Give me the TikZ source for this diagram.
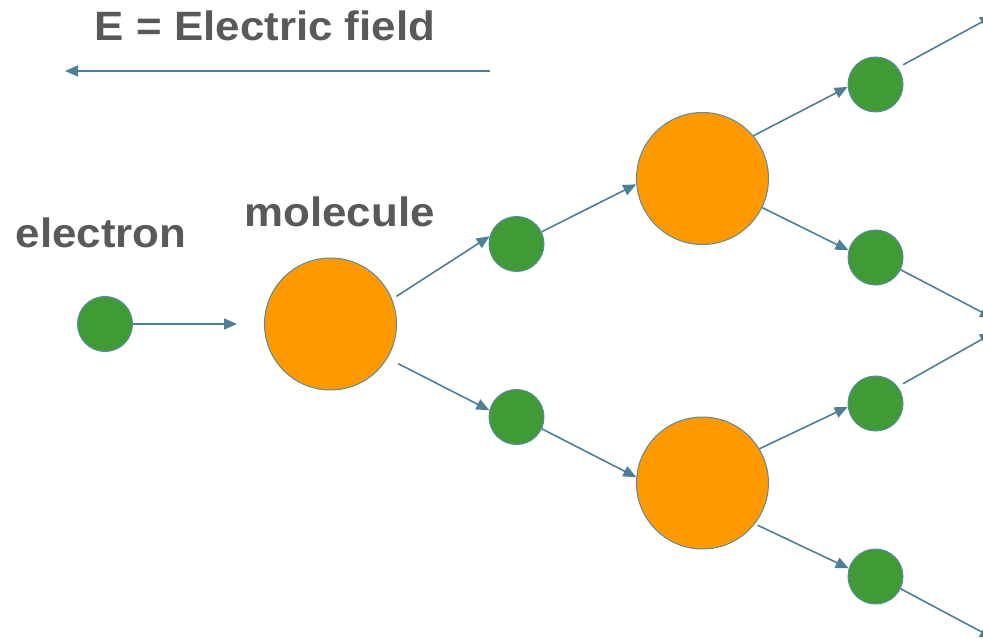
\documentclass[tikz,border=0pt]{standalone}
\usepackage{fontspec}
\setmainfont[FakeStretch=1.07]{Liberation Sans}
\usetikzlibrary{arrows.meta}
\definecolor{txt}{HTML}{595959}
\definecolor{grn}{HTML}{409A36}
\definecolor{org}{HTML}{FF9900}
\definecolor{edge}{HTML}{5B8BA2}
\definecolor{arr}{HTML}{4E7F97}
\tikzset{
  x=1pt, y=-1pt,
  lbl/.style={font=\fontsize{41}{45}\selectfont\bfseries, text=txt, inner sep=0pt, anchor=base},
  elec/.style={circle, fill=grn, draw=edge, line width=1pt, minimum size=55pt, inner sep=0pt},
  mol/.style={circle, fill=org, draw=edge, line width=1pt, minimum size=132pt, inner sep=0pt},
  conn/.style={draw=arr, line width=1.6pt, -{Triangle[length=13pt,width=11pt]}}
}
\begin{document}
\begin{tikzpicture}
\useasboundingbox (0,0) rectangle (983,639);
\clip (0,0) rectangle (983,639);
% texts
\node[lbl] (title) at (265,41) {E = Electric field};
\node[lbl] (tel) at (101,248) {electron};
\node[lbl] (tmol) at (339.5,227) {molecule};
% field arrow
\coordinate (fa) at (490,71);
\coordinate (fb) at (65,71);
\draw[conn] (fa) -- (fb);
% nodes
\node[elec] (e) at (105,324) {};
\node[mol] (m) at (330.5,324) {};
\node[elec] (g1) at (516.5,244) {};
\node[elec] (g2) at (516.5,417) {};
\node[mol] (o1) at (702.5,178.5) {};
\node[mol] (o2) at (702.5,483) {};
\node[elec] (g5) at (875.5,84.5) {};
\node[elec] (g6) at (875.5,257.5) {};
\node[elec] (g7) at (875.5,403.5) {};
\node[elec] (g8) at (875.5,576.5) {};
\coordinate (c5) at (993,16);
\coordinate (c6) at (993,318);
\coordinate (c7) at (993,333);
\coordinate (c8) at (993,638);
% connectors
\draw[conn, shorten >=27pt] (e.east) -- (m.west);
\draw[conn, shorten <=5pt] (m.22) -- (g1.164);
\draw[conn, shorten <=12pt] (m.-31) -- (g2.166);
\draw[conn] (g1.26) -- (o1.185);
\draw[conn] (g2.-25) -- (o2.175);
\draw[conn] (o1.40) -- (g5.185);
\draw[conn] (o1.-26) -- (g6.165);
\draw[conn] (o2.31) -- (g7.187);
\draw[conn, shorten <=3pt] (o2.-38) -- (g8.163);
\draw[conn, shorten <=6pt] (g5.37) -- (c5);
\draw[conn] (g6.-26) -- (c6);
\draw[conn, shorten <=6pt] (g7.37) -- (c7);
\draw[conn] (g8.-26) -- (c8);
\end{tikzpicture}
\end{document}
